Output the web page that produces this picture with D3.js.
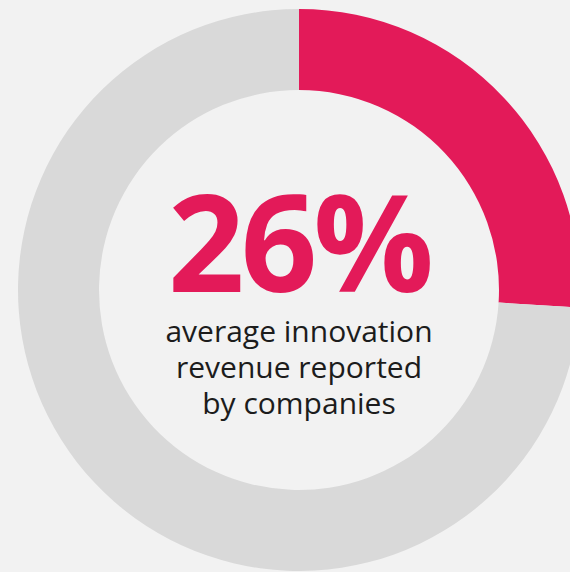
<html><head>
<meta charset="UTF-8">
<title>Innovation revenue donut</title>
<script src="https://cdn.jsdelivr.net/npm/d3@7"></script>
<style>
  html, body { margin: 0; padding: 0; background: #f2f2f2; }
  svg { display: block; }
  .big { font-family: "Open Sans", sans-serif; font-weight: 700; fill: #e31a59; }
  .sub { font-family: "Open Sans", sans-serif; font-weight: 400; fill: #1c1c1c; }
</style>
</head>
<body>
<div id="chart"></div>
<script>
// data
const categories = ["innovation revenue", "rest"];
const values = [26, 74];
const colors = ["#e31a59", "#d9d9d9"];
const headline = "26%";
const caption = ["average innovation", "revenue reported", "by companies"];

const width = 570, height = 572;
const cx = 299, cy = 290;
const outerR = 281, innerR = 200;

const svg = d3.select("#chart").append("svg")
    .attr("width", width)
    .attr("height", height);

svg.append("rect")
    .attr("width", width)
    .attr("height", height)
    .attr("fill", "#f2f2f2");

const g = svg.append("g")
    .attr("transform", `translate(${cx},${cy})`);

const pie = d3.pie().sort(null).value(d => d);
const arc = d3.arc().innerRadius(innerR).outerRadius(outerR);

g.selectAll("path")
    .data(pie(values))
  .enter().append("path")
    .attr("d", arc)
    .attr("fill", (d, i) => colors[i]);

// center text
g.append("text")
    .attr("class", "big")
    .attr("text-anchor", "middle")
    .attr("y", 2)
    .style("font-size", "134px")
    .style("letter-spacing", "-4px")
    .text(headline);

// caption as one multi-line text block
g.append("text")
    .attr("class", "sub")
    .attr("text-anchor", "middle")
    .style("font-size", "30px")
  .selectAll("tspan")
    .data(caption)
  .enter().append("tspan")
    .attr("x", 0)
    .attr("y", (d, i) => 52 + i * 36)
    .text(d => d);
</script>
</body></html>
